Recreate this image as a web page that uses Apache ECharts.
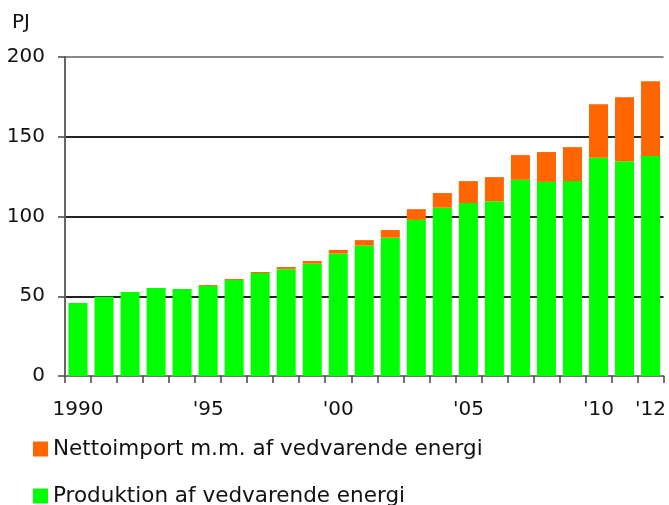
<!DOCTYPE html>
<html>
<head>
<meta charset="utf-8">
<script src="https://cdn.jsdelivr.net/npm/echarts@6/dist/echarts.min.js"></script>
<style>html,body{margin:0;padding:0;background:#fff}#c{width:669px;height:505px}</style>
</head>
<body>
<div id="c"></div>
<script>
const years = ['1990','1991','1992','1993','1994','1995','1996','1997','1998','1999','2000','2001','2002','2003','2004','2005','2006','2007','2008','2009','2010','2011','2012'];
const tickLabels = {'1990':'1990','1995':"'95",'2000':"'00",'2005':"'05",'2010':"'10",'2012':"'12"};
const produktion = [45.7, 49.7, 52.6, 55.1, 54.5, 56.4, 60.2, 64.5, 67.0, 70.4, 76.7, 81.7, 86.7, 97.9, 105.5, 108.4, 109.6, 123.0, 121.7, 122.2, 136.8, 134.7, 138.0];
const nettoimport = [0, 0, 0, 0, 0, 0.6, 0.6, 0.7, 1.3, 1.7, 2.3, 3.5, 4.8, 6.7, 9.2, 13.8, 15.1, 15.5, 18.7, 21.3, 33.6, 40.1, 46.8];
const yTicks = [0, 50, 100, 150, 200];
const nameProd = 'Produktion af vedvarende energi';
const nameImp = 'Nettoimport m.m. af vedvarende energi';
const unit = 'PJ';

const font = 'DejaVu Sans';
const chart = echarts.init(document.getElementById('c'));
chart.setOption({
  animation: false,
  textStyle: {fontFamily: font},
  grid: {left: 65, right: 4, top: 57, bottom: 129, containLabel: false},
  graphic: [{type: 'text', left: 12, top: 13, style: {text: unit, font: '20px "DejaVu Sans"', fill: '#111'}}],
  legend: [
    {data: [nameImp], orient: 'vertical', left: 28, top: 433, itemWidth: 15, itemHeight: 15, icon: 'rect',
     textStyle: {fontSize: 21.5, color: '#111', fontFamily: font}},
    {data: [nameProd], orient: 'vertical', left: 28, top: 480, itemWidth: 15, itemHeight: 15, icon: 'rect',
     textStyle: {fontSize: 21.5, color: '#111', fontFamily: font}}
  ],
  xAxis: {
    type: 'category', data: years,
    axisLine: {lineStyle: {color: '#777', width: 2}},
    axisTick: {show: true, length: 7, alignWithLabel: false, interval: 0, lineStyle: {color: '#444', width: 1.5}},
    axisLabel: {
      interval: (i, v) => tickLabels[v] !== undefined,
      formatter: v => tickLabels[v] || '',
      fontSize: 20, color: '#111', margin: 24, fontFamily: font
    }
  },
  yAxis: {
    type: 'value', min: yTicks[0], max: yTicks[yTicks.length - 1], interval: 50,
    axisLine: {show: true, lineStyle: {color: '#666', width: 2}},
    axisTick: {show: true, length: 7, lineStyle: {color: '#444', width: 1.5}},
    axisLabel: {fontSize: 20, color: '#111', margin: 20, fontFamily: font},
    splitLine: {show: true, lineStyle: {color: ['#888', '#222', '#222', '#222', '#888'], width: [2]}}
  },
  series: [
    {name: nameProd, type: 'bar', stack: 'a', data: produktion, itemStyle: {color: '#00FF00'}, barCategoryGap: '27%'},
    {name: nameImp, type: 'bar', stack: 'a', data: nettoimport, itemStyle: {color: '#FF6600'}, barCategoryGap: '27%'}
  ]
});
</script>
</body>
</html>
